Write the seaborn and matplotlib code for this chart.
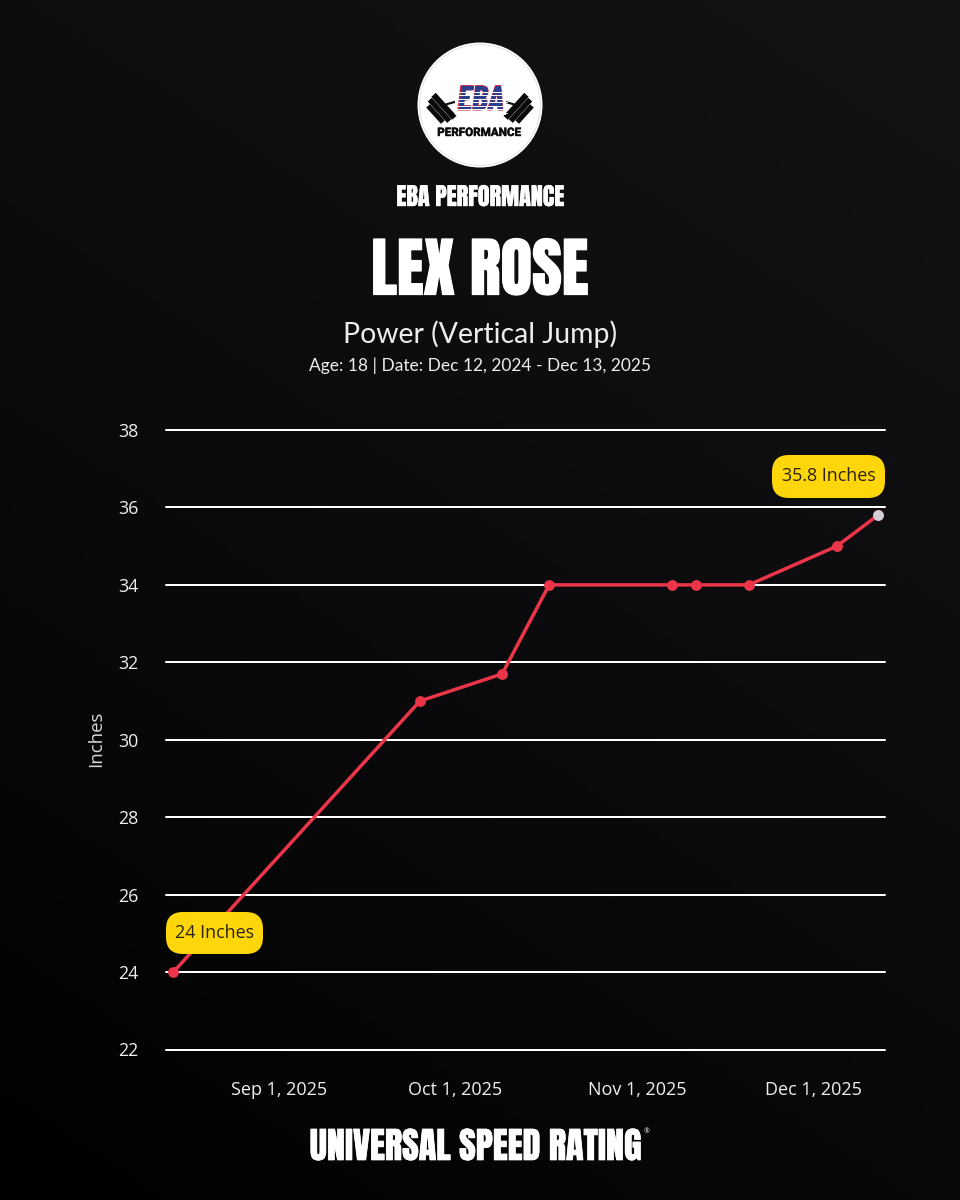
import numpy as np, pandas as pd
import matplotlib
matplotlib.use("Agg")
import matplotlib.pyplot as plt
import matplotlib.patheffects as pe
from matplotlib.patches import Circle, FancyBboxPatch, Polygon, Rectangle
from matplotlib import font_manager as fm
import seaborn as sns

dates = ["2025-08-14", "2025-09-25", "2025-10-09", "2025-10-17", "2025-11-07",
         "2025-11-11", "2025-11-20", "2025-12-05", "2025-12-12"]
inches = [24, 31, 31.7, 34, 34, 34, 34, 35, 35.8]
y_ticks = [22, 24, 26, 28, 30, 32, 34, 36, 38]
x_ticks = ["2025-09-01", "2025-10-01", "2025-11-01", "2025-12-01"]
x_tick_labels = ["Sep 1, 2025", "Oct 1, 2025", "Nov 1, 2025", "Dec 1, 2025"]
first_label = "24 Inches"
last_label = "35.8 Inches"
df = pd.DataFrame({"date": pd.to_datetime(dates), "inches": inches})

sns.set_theme(style="white")
plt.rcParams['font.family'] = ['Open Sans', 'DejaVu Sans']
installed = {f.name for f in fm.fontManager.ttflist}
HEAVY = 'Anton' if 'Anton' in installed else 'Roboto'
EBA_FONT = 'Barlow Condensed' if 'Barlow Condensed' in installed else 'Liberation Sans'

W, H = 960, 1200
fig = plt.figure(figsize=(9.6, 12), dpi=100)

# background gradient
bg = fig.add_axes([0, 0, 1, 1], zorder=0)
yy, xx = np.mgrid[0:1:200j, 0:1:160j]
t = np.clip(0.72 * (1 - yy) + 0.38 * xx, 0, 1) ** 0.8
c0, c1 = np.array([0, 0, 0]), np.array([18, 18, 21]) / 255
bg.imshow(c0 + (c1 - c0) * t[..., None], extent=[0, 1, 1, 0], aspect='auto')
bg.axis('off')

# chart
L, R, T, B = 166, 885, 430, 1049.5
ax = fig.add_axes([L / W, 1 - B / H, (R - L) / W, (B - T) / H], zorder=1)
ax.patch.set_alpha(0)
sns.lineplot(data=df, x="date", y="inches", ax=ax, color="#EC3549", linewidth=2.5,
             marker="o", markersize=7.8, markeredgewidth=0, zorder=5, clip_on=False)
sns.scatterplot(data=df.tail(1), x="date", y="inches", ax=ax, color="#D2D2D4", s=60,
                linewidth=0, zorder=6, clip_on=False)
ax.set_xlim(pd.Timestamp("2025-09-01") - pd.Timedelta(days=19.25),
            pd.Timestamp("2025-09-01") + pd.Timedelta(days=103.2))
ax.set_ylim(22, 38)
ax.set_yticks(y_ticks)
ax.set_xticks(pd.to_datetime(x_ticks))
ax.set_xticklabels(x_tick_labels)
ax.grid(axis='y', color='white', linewidth=1.45)
for gl in ax.get_ygridlines():
    gl.set_clip_on(False)
ax.set_axisbelow(True)
ax.grid(axis='x', visible=False)
sns.despine(ax=ax, left=True, bottom=True)
ax.tick_params(axis='both', length=0, colors='#EFEFEF')
ax.tick_params(axis='y', pad=20, labelsize=12.8)
ax.tick_params(axis='x', pad=22.5, labelsize=13)
ax.set_xlabel("")
ax.set_ylabel("Inches", color='#D8D8D8', fontsize=13.4, labelpad=9.4, y=0.502)

# overlay in pixel coordinates
ov = fig.add_axes([0, 0, 1, 1], zorder=2)
ov.set_xlim(0, W); ov.set_ylim(H, 0); ov.axis('off'); ov.patch.set_alpha(0)

def pill(x0, x1, y0, y1, label):
    r = 17
    ov.add_patch(FancyBboxPatch((x0 + r, y0 + r), x1 - x0 - 2 * r, y1 - y0 - 2 * r,
                                boxstyle=f"round,pad={r},rounding_size={r}",
                                fc="#FFD60A", ec="none", zorder=3))
    ov.text((x0 + x1) / 2, (y0 + y1) / 2 - 0.5, label, ha='center', va='center',
            fontsize=12.9, color='#2A2410', zorder=4)

pill(772, 885, 455, 498, last_label)
pill(166, 263, 912, 954, first_label)

def heavy(x, y, s, size, sw, **kw):
    return ov.text(x, y, s, ha='center', va='center', color='white', family=HEAVY,
                   fontsize=size,
                   path_effects=[pe.withStroke(linewidth=sw, foreground='white')], **kw)

heavy(480, 197, "EBA PERFORMANCE", 17.4, 0.3)
heavy(480, 270.5, "LEX ROSE", 46.5, 0.9)
heavy(476, 1146.5, "UNIVERSAL SPEED RATING", 26, 0.5)
ov.text(644, 1132, "®", ha='left', va='center', color='white', fontsize=5)
ov.text(480, 334, "Power (Vertical Jump)", ha='center', va='center', family='Lato',
        fontsize=20.4, color='#EDEDED')
ov.text(480, 366, "Age: 18 | Date: Dec 12, 2024 - Dec 13, 2025", ha='center', va='center',
        family='Lato', fontsize=12.5, color='#EDEDED')

# logo
cx, cy = 480, 105
ov.add_patch(Circle((cx, cy), 62.5, fc='white', ec='none', zorder=3))
ov.add_patch(Circle((cx, cy), 60.5, fc='none', ec='#D0D0D0', lw=0.4, zorder=3))

def rot_rect(xc, yc, along, across, ux, uy, color='#0A0A0A', z=4):
    vx, vy = -uy, ux
    pts = [(xc + sa * across / 2 * ux + sb * along / 2 * vx,
            yc + sa * across / 2 * uy + sb * along / 2 * vy)
           for sa, sb in [(-1, -1), (1, -1), (1, 1), (-1, 1)]]
    ov.add_patch(Polygon(pts, closed=True, fc=color, ec='none', zorder=z))

for sign in (-1, 1):
    ux, uy = -sign * 0.74, -0.67      # from the weight towards the logo centre
    wx, wy = cx + sign * 39, 109
    for off, w, h in [(-7.5, 5.0, 22), (-2, 5.5, 29), (4, 6.0, 31)]:
        rot_rect(wx + off * ux, wy + off * uy, h, w, ux, uy)
    ov.plot([cx + sign * 36, cx + sign * 22, cx + sign * 14], [105, 101, 100],
            color='#0A0A0A', lw=1.5, zorder=4)

eba_kw = dict(ha='center', va='center', family=EBA_FONT, fontweight='bold',
              fontstyle='italic', fontsize=25, zorder=5)
stroke = [pe.withStroke(linewidth=0.8, foreground='#C8283A')]
ov.add_patch(Rectangle((455, 88), 51, 27, fc='white', ec='none', zorder=4.5))
ov.text(480.5, 101, "EBA", color='#C8283A', path_effects=stroke, **eba_kw)
blue = ov.text(480.5, 101, "EBA", color='#2A3F8F', **{**eba_kw, 'zorder': 6})
blue.set_clip_path(Rectangle((455, 88), 19, 11.5, transform=ov.transData))
for yy_s in np.arange(91.5, 114, 3.6):
    ov.plot([455, 507], [yy_s, yy_s], color='white', lw=0.7, zorder=7)
ov.text(479, 132.5, "PERFORMANCE", ha='center', va='center', family='Roboto', fontweight='bold',
        fontsize=8.4, color='#0A0A0A', zorder=5,
        path_effects=[pe.withStroke(linewidth=0.3, foreground='#0A0A0A')])

fig.savefig("out.png", dpi=100, facecolor='black')
